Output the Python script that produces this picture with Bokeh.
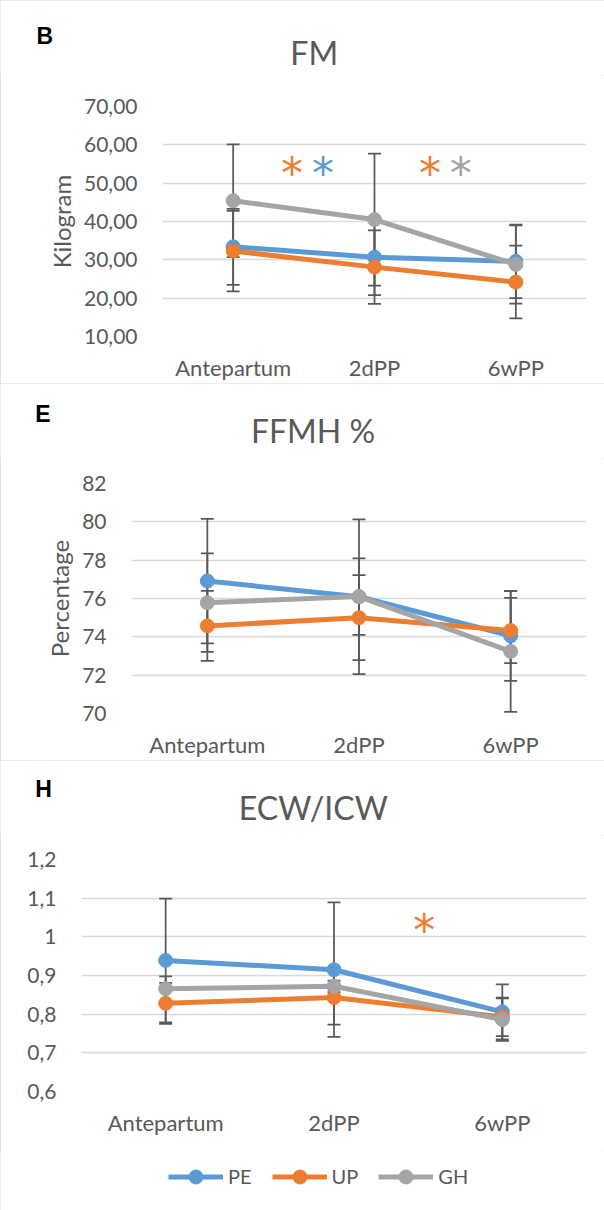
from bokeh.plotting import figure
from bokeh.models import (Range1d, FixedTicker, Whisker, TeeHead, ColumnDataSource,
                          Label, Legend, LegendItem)
from bokeh.layouts import column
from bokeh.embed import file_html
from bokeh.resources import INLINE
from bokeh.core.properties import value

# ---------------- data ----------------
categories = ["Antepartum", "2dPP", "6wPP"]
series_names = ["PE", "UP", "GH"]
series_colors = ["#5B9BD5", "#ED7D31", "#A5A5A5"]

# FM (kg): means and SD
fm_pe = [33.4, 30.7, 29.6]
fm_up = [32.3, 28.1, 24.2]
fm_gh = [45.4, 40.5, 28.8]
fm_pe_sd = [9.9, 9.9, 9.6]
fm_up_sd = [10.5, 9.6, 9.5]
fm_gh_sd = [14.7, 17.2, 10.2]
fm_ticks = [10, 20, 30, 40, 50, 60, 70]
fm_tick_labels = ["10,00", "20,00", "30,00", "40,00", "50,00", "60,00", "70,00"]
fm_star_x = [0.917, 1.135, 1.892, 2.11]
fm_star_y = [54.5, 54.5, 54.5, 54.5]
fm_star_colors = ["#ED7D31", "#5B9BD5", "#ED7D31", "#A5A5A5"]

# FFMH %
ffmh_pe = [76.91, 76.09, 74.05]
ffmh_up = [74.57, 75.0, 74.33]
ffmh_gh = [75.78, 76.1, 73.24]
ffmh_pe_sd = [3.25, 4.04, 2.35]
ffmh_up_sd = [1.83, 2.22, 1.7]
ffmh_gh_sd = [2.57, 2.0, 3.15]
ffmh_ticks = [70, 72, 74, 76, 78, 80, 82]
ffmh_tick_labels = ["70", "72", "74", "76", "78", "80", "82"]

# ECW/ICW
ecw_pe = [0.939, 0.915, 0.806]
ecw_up = [0.828, 0.843, 0.793]
ecw_gh = [0.866, 0.872, 0.786]
ecw_pe_sd = [0.160, 0.174, 0.071]
ecw_up_sd = [0.053, 0.070, 0.050]
ecw_gh_sd = [0.032, 0.015, 0.055]
ecw_ticks = [0.6, 0.7, 0.8, 0.9, 1.0, 1.1, 1.2]
ecw_tick_labels = ["0,6", "0,7", "0,8", "0,9", "1", "1,1", "1,2"]
ecw_star_x = [2.036]
ecw_star_y = [1.036]
ecw_star_colors = ["#ED7D31"]

FONT = "Lato"
TXT = "#595959"
GRID = "#D9D9D9"
ERR = "#595959"
W = 604
HEAD = 75
FOOT = 60


def bare_figure(height, x_range, y_range):
    f = figure(width=W, height=height, x_range=x_range, y_range=y_range,
               output_backend="svg", toolbar_location=None, title=None,
               x_axis_type=None, y_axis_type=None, frame_align=False,
               min_border_left=0, min_border_right=0, min_border_top=0, min_border_bottom=0)
    f.outline_line_color = None
    f.grid.visible = False
    return f


def make_header(tag, title, tag_xy, title_xy):
    h = bare_figure(HEAD, Range1d(0, W), Range1d(HEAD, 0))
    h.add_layout(Label(x=tag_xy[0], y=tag_xy[1], text=tag,
                       text_font="Liberation Sans", text_font_style="bold",
                       text_font_size="23px", text_color="black",
                       text_align="left", text_baseline="middle"))
    h.add_layout(Label(x=title_xy[0], y=title_xy[1], text=title,
                       text_font=FONT, text_font_size="32px", text_color=TXT,
                       text_align="center", text_baseline="middle"))
    return h


def make_footer(means, legend_xy):
    # legend strip: series glyphs are drawn outside the visible range, only the legend shows
    f = bare_figure(FOOT, Range1d(100, 101), Range1d(100, 101))
    xs = [i + 0.5 for i in range(len(categories))]
    items = []
    for name, col, m in zip(series_names, series_colors, means):
        src = ColumnDataSource(dict(x=xs, y=m))
        lr = f.line("x", "y", source=src, line_color=col, line_width=5)
        sr = f.scatter("x", "y", source=src, size=14, fill_color=col, line_color=col, marker="circle")
        items.append(LegendItem(label=name, renderers=[lr, sr]))
    lg = Legend(items=items, orientation="horizontal", location=legend_xy,
                padding=0, margin=0, spacing=20, label_standoff=5,
                glyph_width=55, glyph_height=35,
                border_line_color=None, background_fill_alpha=0,
                label_text_font=FONT, label_text_font_size="20px",
                label_text_color=TXT)
    f.add_layout(lg)
    return f


def make_panel(height, left, top, bottom, y_lo, y_hi, ticks, tick_labels, y_title,
               means, sds, star_x=None, star_y=None, star_colors=None):
    p = figure(width=W, height=height,
               x_range=Range1d(0, len(categories)), y_range=Range1d(y_lo, y_hi),
               output_backend="svg", toolbar_location=None, title=None, frame_align=False,
               min_border_left=left, min_border_right=18,
               min_border_top=top, min_border_bottom=bottom)
    p.outline_line_color = None

    xs = [i + 0.5 for i in range(len(categories))]

    p.xaxis.ticker = FixedTicker(ticks=xs)
    p.xaxis.major_label_overrides = {x: c for x, c in zip(xs, categories)}
    p.yaxis.ticker = FixedTicker(ticks=ticks)
    p.yaxis.major_label_overrides = {t: l for t, l in zip(ticks, tick_labels)}
    for ax in (p.xaxis[0], p.yaxis[0]):
        ax.axis_line_color = None
        ax.major_tick_line_color = None
        ax.minor_tick_line_color = None
        ax.major_label_text_font = FONT
        ax.major_label_text_color = TXT
    p.xaxis.major_label_text_font_size = "22px"
    p.yaxis.major_label_text_font_size = "21px"
    p.yaxis.major_label_standoff = 19
    p.xaxis.major_label_standoff = 11
    if y_title:
        p.yaxis.axis_label = y_title
        p.yaxis.axis_label_text_font = FONT
        p.yaxis.axis_label_text_font_style = "normal"
        p.yaxis.axis_label_text_font_size = "24px"
        p.yaxis.axis_label_text_color = TXT
        p.yaxis.axis_label_standoff = 5
    p.xgrid.grid_line_color = None
    p.ygrid.grid_line_color = GRID
    p.ygrid.grid_line_width = 1.5

    for m, s in zip(means, sds):
        src = ColumnDataSource(dict(x=xs, upper=[a + b for a, b in zip(m, s)],
                                    lower=[a - b for a, b in zip(m, s)]))
        w = Whisker(base="x", upper="upper", lower="lower", source=src,
                    line_color=ERR, line_width=1.75, level="underlay",
                    upper_head=TeeHead(size=13, line_color=ERR, line_width=1.75),
                    lower_head=TeeHead(size=13, line_color=ERR, line_width=1.75))
        p.add_layout(w)

    for name, col, m in zip(series_names, series_colors, means):
        src = ColumnDataSource(dict(x=xs, y=m))
        p.line("x", "y", source=src, line_color=col, line_width=5, line_join="round")
        p.scatter("x", "y", source=src, size=14, fill_color=col, line_color=col, marker="circle")

    if star_x:
        ssrc = ColumnDataSource(dict(x=star_x, y=star_y, c=star_colors, t=["*"] * len(star_x)))
        p.text("x", "y", text="t", source=ssrc, text_color="c", text_font=value("DejaVu Sans"),
               text_font_size="44px", text_align="center", text_baseline="alphabetic", y_offset=8)
    return p


BOX = {"outline": "1px solid #D9D9D9", "outline-offset": "-1px"}

h1 = make_header("B", "FM", (36, 35.3), (313.7, 51.7))
p1 = make_panel(383 - HEAD, 162, 31, 45, 10, 70, fm_ticks, fm_tick_labels, "Kilogram",
                [fm_pe, fm_up, fm_gh], [fm_pe_sd, fm_up_sd, fm_gh_sd],
                fm_star_x, fm_star_y, fm_star_colors)
h2 = make_header("E", "FFMH %", (34.7, 30), (312.5, 46.5))
p2 = make_panel(377 - HEAD, 131, 25, 46, 70, 82, ffmh_ticks, ffmh_tick_labels, "Percentage",
                [ffmh_pe, ffmh_up, ffmh_gh], [ffmh_pe_sd, ffmh_up_sd, ffmh_gh_sd])
h3 = make_header("H", "ECW/ICW", (34.7, 28), (312.8, 46.7))
p3 = make_panel(450 - HEAD - FOOT, 81, 24, 59, 0.6, 1.2, ecw_ticks, ecw_tick_labels, None,
                [ecw_pe, ecw_up, ecw_gh], [ecw_pe_sd, ecw_up_sd, ecw_gh_sd],
                ecw_star_x, ecw_star_y, ecw_star_colors)
f3 = make_footer([ecw_pe, ecw_up, ecw_gh], (168, 16.5))

layout = column(column(h1, p1, spacing=0, styles=BOX),
                column(h2, p2, spacing=0, styles=BOX),
                column(h3, p3, f3, spacing=0, styles=BOX), spacing=0)
open("out.html", "w").write(file_html(layout, INLINE))
